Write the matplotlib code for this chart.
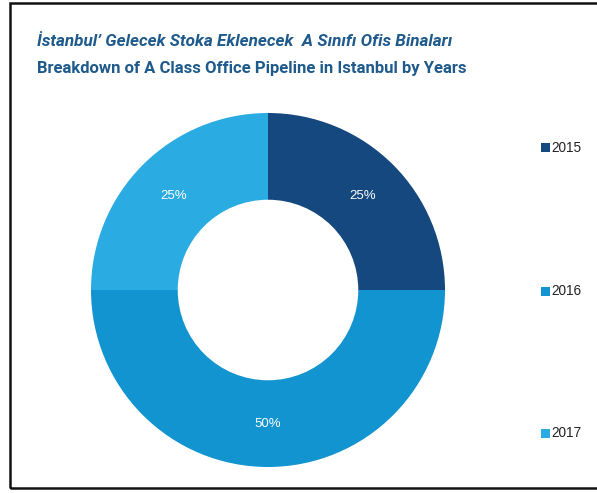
import matplotlib
matplotlib.use("Agg")
import matplotlib.pyplot as plt
from matplotlib.patches import Rectangle
import numpy as np

categories = ["2015", "2016", "2017"]
values = [25, 50, 25]
colors = ["#15487E", "#1294D0", "#2AACE3"]
title_tr = "İstanbul’ Gelecek Stoka Eklenecek  A Sınıfı Ofis Binaları"
title_en = "Breakdown of A Class Office Pipeline in Istanbul by Years"

W, H = 597, 493
fig = plt.figure(figsize=(W / 100, H / 100), dpi=100)

# frame
fig.add_artist(Rectangle((10 / W, 1 - 488 / H), 600 / W, (488 - 3) / H,
                         transform=fig.transFigure, fill=False,
                         edgecolor="#111111", linewidth=1.8))

cx, cy, r = 268, 290, 177
ax = fig.add_axes([(cx - r) / W, 1 - (cy + r) / H, 2 * r / W, 2 * r / H])
wedges, texts = ax.pie(values, colors=colors, startangle=90, counterclock=False,
                       wedgeprops=dict(width=0.49, edgecolor="none"))
ang = 90.0
for w, v in zip(wedges, values):
    mid = np.deg2rad(ang - v / sum(values) * 360 / 2)
    ang -= v / sum(values) * 360
    ax.text(0.755 * np.cos(mid), 0.755 * np.sin(mid), f"{v}%", ha="center",
            va="center", color="white", fontsize=9.5, family="Liberation Sans")
ax.set_xlim(-1, 1)
ax.set_ylim(-1, 1)
ax.set_aspect("equal")
ax.axis("off")

# legend
leg_y = [148, 291, 433]
for cat, col, y in zip(categories, colors, leg_y):
    fig.add_artist(Rectangle((541 / W, 1 - (y + 4.5) / H), 9 / W, 9 / H,
                             transform=fig.transFigure, facecolor=col,
                             edgecolor="none"))
    fig.text(551 / W, 1 - y / H, cat, ha="left", va="center", fontsize=9.8,
             color="#222222", family="Liberation Sans")

fig.text(37 / W, 1 - 42 / H, title_tr, ha="left", va="center", fontsize=12.3,
         style="italic", fontweight="bold", color="#1F5A8C", family="Roboto")
fig.text(37 / W, 1 - 68 / H, title_en, ha="left", va="center", fontsize=12.0,
         fontweight="bold", color="#1F5A8C", family="Roboto")

fig.savefig("out.png", dpi=100)
